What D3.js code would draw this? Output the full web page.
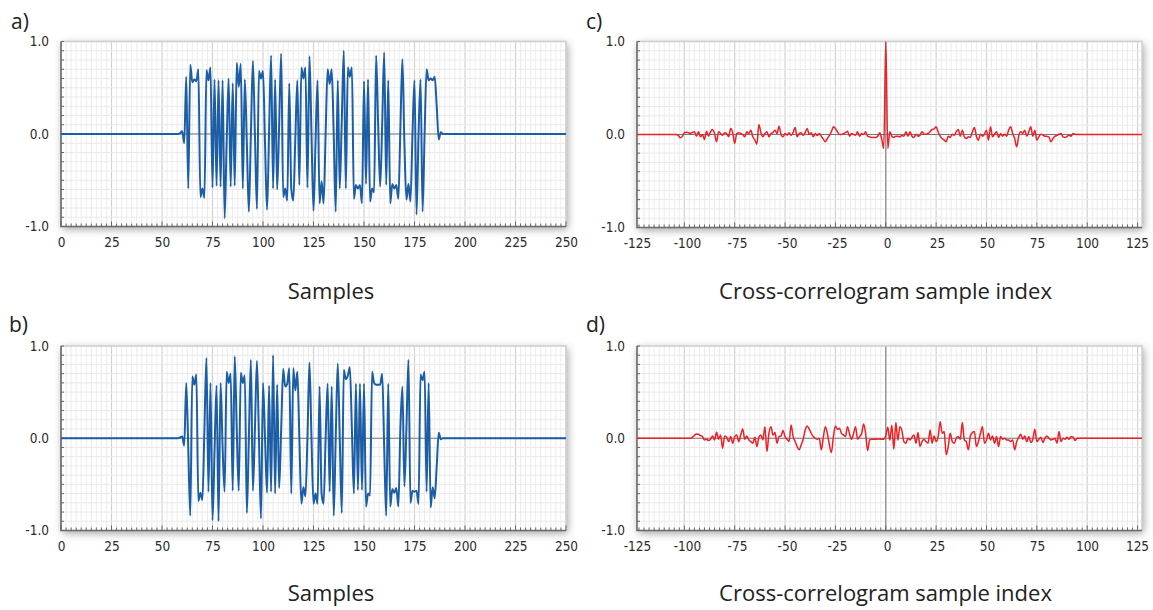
<!DOCTYPE html>
<html><head><meta charset="utf-8">
<script src="https://cdn.jsdelivr.net/npm/d3@7/dist/d3.min.js"></script>
<style>body{margin:0;background:#fff}</style>
</head><body>
<svg id="chart" width="1153" height="610"></svg>
<script>
// ---------------- data ----------------
const sampleTicks = [0, 25, 50, 75, 100, 125, 150, 175, 200, 225, 250];
const lagTicks = [-125, -100, -75, -50, -25, 0, 25, 50, 75, 100, 125];
const yTicks = [-1, 0, 1];
const yTickLabels = ["-1.0", "0.0", "1.0"];
const panelLetters = ["a)", "b)", "c)", "d)"];
const axisTitles = ["Samples", "Cross-correlogram sample index"];

// signal a): samples 57..189 (zero elsewhere, 0..250)
const aStart = 57;
const aValues = [
  0, 0, 0.01, 0.03, -0.10, 0.62, -0.59, 0.75, 0.56, 0.59,
  0.57, 0.70, -0.68, -0.59, -0.69, 0.69, 0.58, 0.72, -0.58, 0.59,
  -0.56, 0.58, -0.57, 0.58, -0.91, -0.10, 0.60, -0.57, 0.55, -0.56,
  0.77, 0.51, 0.76, -0.59, 0.59, -0.10, -0.84, 0.00, 0.79, 0.00,
  -0.81, 0.68, 0.60, 0.68, -0.10, -0.82, 0.00, 0.85, -0.59, 0.59,
  -0.60, 0.10, 0.87, -0.68, -0.59, -0.72, 0.55, -0.59, -0.72, -0.05,
  0.58, -0.55, 0.72, 0.60, 0.72, -0.58, 0.84, 0.00, -0.83, -0.10,
  0.58, -0.75, -0.51, -0.75, 0.00, 0.70, 0.54, 0.70, 0.00, -0.84,
  0.58, -0.59, 0.15, 0.90, -0.59, 0.72, 0.62, 0.72, -0.70, -0.55,
  -0.59, -0.55, -0.75, 0.57, -0.54, 0.59, -0.73, -0.59, -0.63, 0.85,
  0.10, -0.57, 0.10, 0.88, -0.55, 0.58, -0.75, -0.54, -0.59, -0.55,
  -0.70, 0.05, 0.81, -0.10, -0.71, -0.54, -0.73, 0.00, 0.58, -0.87,
  0.00, 0.59, -0.84, 0.00, 0.70, 0.58, 0.60, 0.58, 0.62, 0.30,
  -0.06, 0.02, 0
];

// signal b): samples 57..189
const bStart = 57;
const bValues = [
  0, 0, 0.01, 0.02, -0.08, 0.60, -0.10, -0.84, 0.67, 0.58,
  0.69, -0.68, -0.59, -0.67, 0.10, 0.87, -0.58, 0.60, -0.89, -0.15,
  0.57, -0.90, 0.60, -0.10, -0.58, 0.72, 0.60, 0.70, -0.57, 0.89,
  0.10, -0.57, 0.71, 0.60, 0.68, -0.81, 0.00, 0.85, -0.57, 0.10,
  0.84, 0.00, -0.87, 0.60, 0.00, -0.59, 0.57, -0.58, 0.90, -0.60,
  0.58, -0.54, 0.10, 0.75, 0.56, 0.59, 0.76, -0.60, 0.76, 0.52,
  0.72, 0.00, -0.71, -0.53, -0.63, 0.00, 0.82, 0.00, -0.71, -0.60,
  -0.71, 0.56, -0.60, -0.71, 0.00, 0.59, -0.58, 0.56, -0.84, 0.00,
  0.81, 0.00, -0.81, 0.74, 0.64, 0.68, 0.77, 0.10, -0.60, 0.59,
  -0.56, 0.59, -0.56, 0.59, -0.74, -0.60, -0.62, 0.72, 0.60, 0.58,
  0.58, 0.58, 0.70, -0.10, -0.84, 0.59, -0.74, -0.55, -0.59, -0.54,
  -0.74, 0.10, 0.56, -0.52, 0.10, 0.85, -0.70, -0.57, -0.58, -0.57,
  -0.71, 0.69, 0.63, 0.72, -0.58, 0.60, -0.75, -0.53, -0.65, -0.30,
  0.06, -0.01, 0
];

// cross-correlogram c): lags -105..95
const cStart = -105;
const cValues = [
  0, 0, -0.01, -0.036, -0.02, 0.018, 0.025, 0.02, 0.011, 0.022,
  0.029, -0.018, 0.029, -0.025, 0.0, -0.054, 0.036, -0.018, 0.029, 0.054,
  0.011, -0.079, 0.029, 0.01, -0.007, 0.018, 0.01, -0.025, 0.065, 0.02,
  -0.097, 0.011, 0.02, 0.011, 0.0, -0.025, 0.029, 0.01, 0.047, -0.025,
  -0.06, -0.104, 0.108, 0.02, -0.025, 0.01, 0.029, -0.025, 0.01, 0.02,
  0.047, 0.01, 0.09, 0.0, -0.025, 0.01, -0.007, 0.02, -0.01, 0.02,
  0.075, -0.025, 0.01, 0.02, -0.01, 0.02, 0.065, 0.0, 0.02, -0.025,
  0.01, -0.01, 0.01, -0.02, -0.05, -0.079, -0.043, -0.01, 0.03, 0.082,
  0.065, 0.03, 0.0, 0.0, 0.01, 0.02, 0.036, -0.018, 0.011, 0.0,
  -0.007, 0.029, -0.018, 0.011, 0.0, 0.029, -0.018, -0.025, -0.032, -0.03,
  -0.032, -0.018, 0.018, -0.05, -0.15, 1.0, -0.15, 0.029, -0.018, -0.032,
  -0.018, -0.02, -0.025, -0.01, -0.018, 0.029, -0.018, 0.029, -0.018, -0.032,
  0.004, -0.018, -0.007, 0.029, 0.004, 0.004, 0.011, 0.029, 0.054, 0.06,
  0.082, 0.029, -0.018, -0.043, -0.06, -0.079, -0.018, -0.032, 0.004, -0.007,
  0.029, 0.054, -0.018, 0.047, -0.025, -0.043, -0.025, -0.032, 0.029, 0.075,
  -0.018, -0.061, 0.004, -0.018, 0.004, 0.047, -0.061, 0.082, -0.025, 0.004,
  0.029, -0.032, 0.011, -0.018, 0.004, -0.018, 0.047, 0.082, 0.011, -0.043,
  -0.133, -0.018, 0.029, 0.011, 0.047, -0.018, 0.029, 0.082, -0.018, 0.047,
  -0.061, -0.025, 0.004, -0.007, -0.018, -0.02, -0.025, -0.079, -0.043, -0.018,
  -0.01, 0.004, 0.011, -0.025, -0.032, -0.02, -0.007, -0.018, 0.011, 0.004,
  0
];

// cross-correlogram d): lags -97..95
const dStart = -97;
const dValues = [
  0, 0.01, 0.03, 0.047, 0.043, 0.03, 0.018, -0.018, -0.011, -0.025,
  -0.011, 0.025, -0.018, 0.065, -0.011, 0.036, -0.108, 0.025, 0.011, -0.036,
  0.018, -0.054, 0.018, 0.036, -0.036, 0.036, 0.101, -0.011, 0.025, -0.018,
  -0.036, -0.054, 0.011, -0.09, 0.011, 0.036, -0.018, 0.126, -0.144, 0.054,
  0.126, 0.036, 0.061, -0.054, 0.018, 0.025, 0.083, 0.018, -0.011, -0.036,
  0.144, 0.018, -0.036, -0.09, -0.126, -0.072, -0.011, 0.09, 0.134, 0.1,
  0.054, 0.018, 0.0, -0.011, 0.0, -0.126, 0.011, 0.126, 0.054, -0.072,
  -0.155, 0.018, 0.134, 0.097, 0.108, 0.054, 0.036, 0.018, 0.126, 0.047,
  -0.011, 0.05, 0.126, -0.011, 0.018, 0.05, 0.155, 0.054, -0.134, -0.018,
  -0.011, -0.01, -0.012, -0.008, -0.01, -0.012, -0.01, 0.025, 0.12, -0.02,
  0.14, -0.12, 0.17, -0.02, 0.126, 0.083, -0.036, -0.054, 0.0, -0.018,
  0.011, 0.036, -0.054, 0.061, -0.09, -0.036, -0.011, -0.036, -0.054, 0.09,
  -0.054, 0.025, -0.036, 0.018, 0.18, 0.054, 0.072, -0.18, -0.09, 0.054,
  -0.036, -0.054, 0.0, 0.018, -0.011, 0.17, -0.018, -0.036, -0.126, 0.025,
  0.061, 0.072, -0.09, -0.036, 0.054, 0.126, -0.054, -0.018, 0.054, -0.018,
  0.025, -0.054, 0.018, -0.09, 0.018, -0.011, 0.0, -0.018, -0.02, -0.036,
  -0.018, -0.126, -0.036, 0.01, 0.043, -0.011, 0.025, -0.036, 0.018, -0.047,
  -0.011, 0.097, -0.036, -0.011, 0.011, -0.047, 0.0, 0.025, 0.0, -0.018,
  -0.011, 0.0, -0.054, 0.072, -0.036, 0.0, -0.011, 0.011, -0.011, 0.018,
  0.011, -0.025, 0
];

// ---------------- drawing ----------------
const svg = d3.select("#chart");
const defs = svg.append("defs");
const f = defs.append("filter").attr("id", "shadow")
  .attr("x", "-6%").attr("y", "-12%").attr("width", "112%").attr("height", "130%");
f.append("feDropShadow").attr("dx", 1.5).attr("dy", 2.5).attr("stdDeviation", 4)
  .attr("flood-color", "#000").attr("flood-opacity", 0.38);

function buildPoints(start, values, domain) {
  const pts = [[domain[0], 0]];
  values.forEach((v, i) => pts.push([start + i, v]));
  pts.push([domain[1], 0]);
  return pts;
}

const panels = [
  { id: "a", box: [61, 566, 41.5, 226.5], domain: [0, 250], labelDomain: [0, 250], ticks: sampleTicks,
    pts: buildPoints(aStart, aValues, [0, 250]), color: "#1b5ea6", width: 2, vzero: false,
    letter: panelLetters[0], letterPos: [11, 29], title: axisTitles[0], titleX: 331, titleY: 299 },
  { id: "b", box: [61, 566, 346, 530.5], domain: [0, 250], labelDomain: [0, 250], ticks: sampleTicks,
    pts: buildPoints(bStart, bValues, [0, 250]), color: "#1b5ea6", width: 2, vzero: false,
    letter: panelLetters[1], letterPos: [9, 332], title: axisTitles[0], titleX: 331, titleY: 601 },
  { id: "c", box: [637, 1142, 41.5, 227.5], domain: [-123.5, 127.2], labelDomain: [-125, 125], labelRange: [637, 1137], ticks: lagTicks,
    pts: buildPoints(cStart, cValues, [-123.5, 127.2]), color: "#ee1f26", width: 1.5, vzero: true,
    letter: panelLetters[2], letterPos: [586, 29], title: axisTitles[1], titleX: 885.5, titleY: 299 },
  { id: "d", box: [637, 1142, 346, 530.5], domain: [-123.5, 127.2], labelDomain: [-125, 125], labelRange: [637, 1137], ticks: lagTicks,
    pts: buildPoints(dStart, dValues, [-123.5, 127.2]), color: "#ee1f26", width: 1.5, vzero: true,
    letter: panelLetters[3], letterPos: [586, 332], title: axisTitles[1], titleX: 885.5, titleY: 601 }
];

const tickFont = "'Liberation Sans Narrow', 'DejaVu Sans Condensed', sans-serif";
const titleFont = "'Open Sans', 'Noto Sans', sans-serif";

panels.forEach(p => {
  const [x0, x1, y0, y1] = p.box;
  const x = d3.scaleLinear().domain(p.domain).range([x0, x1]);
  const y = d3.scaleLinear().domain([-1, 1]).range([y1, y0]);
  const g = svg.append("g");

  // background + shadow
  g.append("rect").attr("x", x0).attr("y", y0).attr("width", x1 - x0).attr("height", y1 - y0)
    .attr("fill", "#fff").attr("filter", "url(#shadow)");

  // vertical grid
  const minorX = d3.range(Math.ceil(p.domain[0] / 2.5) * 2.5, p.domain[1] + 0.001, 2.5);
  g.append("g").selectAll("line").data(minorX).join("line")
    .attr("x1", d => x(d)).attr("x2", d => x(d)).attr("y1", y0).attr("y2", y1)
    .attr("stroke", d => (Math.abs(d % 25) < 0.01 ? "#d2d2d2" : "#ececec"))
    .attr("stroke-width", d => (Math.abs(d % 25) < 0.01 ? 1.2 : 1));

  // horizontal grid
  const minorY = d3.range(-10, 11).map(k => k / 10);
  g.append("g").selectAll("line").data(minorY).join("line")
    .attr("x1", x0).attr("x2", x1).attr("y1", d => y(d)).attr("y2", d => y(d))
    .attr("stroke", "#e9e9e9").attr("stroke-width", 1);

  // zero lines
  g.append("line").attr("x1", x0).attr("x2", x1).attr("y1", y(0)).attr("y2", y(0))
    .attr("stroke", "#777").attr("stroke-width", 1.2);
  if (p.vzero) {
    g.append("line").attr("x1", x(0)).attr("x2", x(0)).attr("y1", y0).attr("y2", y1)
      .attr("stroke", "#8a8a8a").attr("stroke-width", 1.2);
  }

  // frame
  g.append("path").attr("d", `M${x0},${y0}H${x1}V${y1}`).attr("fill", "none")
    .attr("stroke", "#cfcfcf").attr("stroke-width", 1.5);
  g.append("path").attr("d", `M${x0},${y0}V${y1}H${x1}`).attr("fill", "none")
    .attr("stroke", "#6a6a6a").attr("stroke-width", 1.6);

  // bottom ticks (inside)
  g.append("g").selectAll("line").data(minorX).join("line")
    .attr("x1", d => x(d)).attr("x2", d => x(d))
    .attr("y1", y1).attr("y2", d => y1 - (Math.abs(d % 25) < 0.01 ? 5 : 3))
    .attr("stroke", "#666").attr("stroke-width", 1);
  // left ticks (inside)
  g.append("g").selectAll("line").data(minorY).join("line")
    .attr("x1", x0).attr("x2", x0 + 3).attr("y1", d => y(d)).attr("y2", d => y(d))
    .attr("stroke", "#666").attr("stroke-width", 1);

  // data line
  const clipId = "clip-" + p.id;
  defs.append("clipPath").attr("id", clipId).append("rect")
    .attr("x", x0).attr("y", y0 - 2).attr("width", x1 - x0).attr("height", y1 - y0 + 4);
  g.append("path").datum(p.pts)
    .attr("clip-path", `url(#${clipId})`)
    .attr("fill", "none").attr("stroke", p.color).attr("stroke-width", p.width)
    .attr("stroke-linejoin", "round")
    .attr("d", d3.line().curve(d3.curveMonotoneX).x(d => x(d[0])).y(d => y(d[1])));

  // x tick labels via axis (hyphen-minus as in the original)
  const lx = d3.scaleLinear().domain(p.labelDomain).range(p.labelRange || [x0, x1]);
  const xAxis = g.append("g").attr("transform", `translate(0,${y1 + 8})`)
    .call(d3.axisBottom(lx).tickValues(p.ticks).tickSize(0).tickFormat(d => String(d)));
  xAxis.select(".domain").remove();
  xAxis.selectAll("text").attr("font-family", tickFont).attr("font-size", 13.5).attr("fill", "#2a2a2a");

  // y tick labels via axis
  const yAxis = g.append("g").attr("transform", `translate(${x0 - 12},0)`)
    .call(d3.axisLeft(y).tickValues(yTicks).tickSize(0).tickFormat((d, i) => yTickLabels[i]));
  yAxis.select(".domain").remove();
  yAxis.selectAll("text").attr("font-family", tickFont).attr("font-size", 13.5).attr("fill", "#2a2a2a").attr("x", 0);

  // panel letter
  svg.append("text").attr("x", p.letterPos[0]).attr("y", p.letterPos[1])
    .attr("font-family", titleFont).attr("font-size", 21).attr("fill", "#222").text(p.letter);

  // axis title
  svg.append("text").attr("x", p.titleX).attr("y", p.titleY).attr("text-anchor", "middle")
    .attr("font-family", titleFont).attr("font-size", 22).attr("fill", "#222").text(p.title);
});
</script>
</body></html>
